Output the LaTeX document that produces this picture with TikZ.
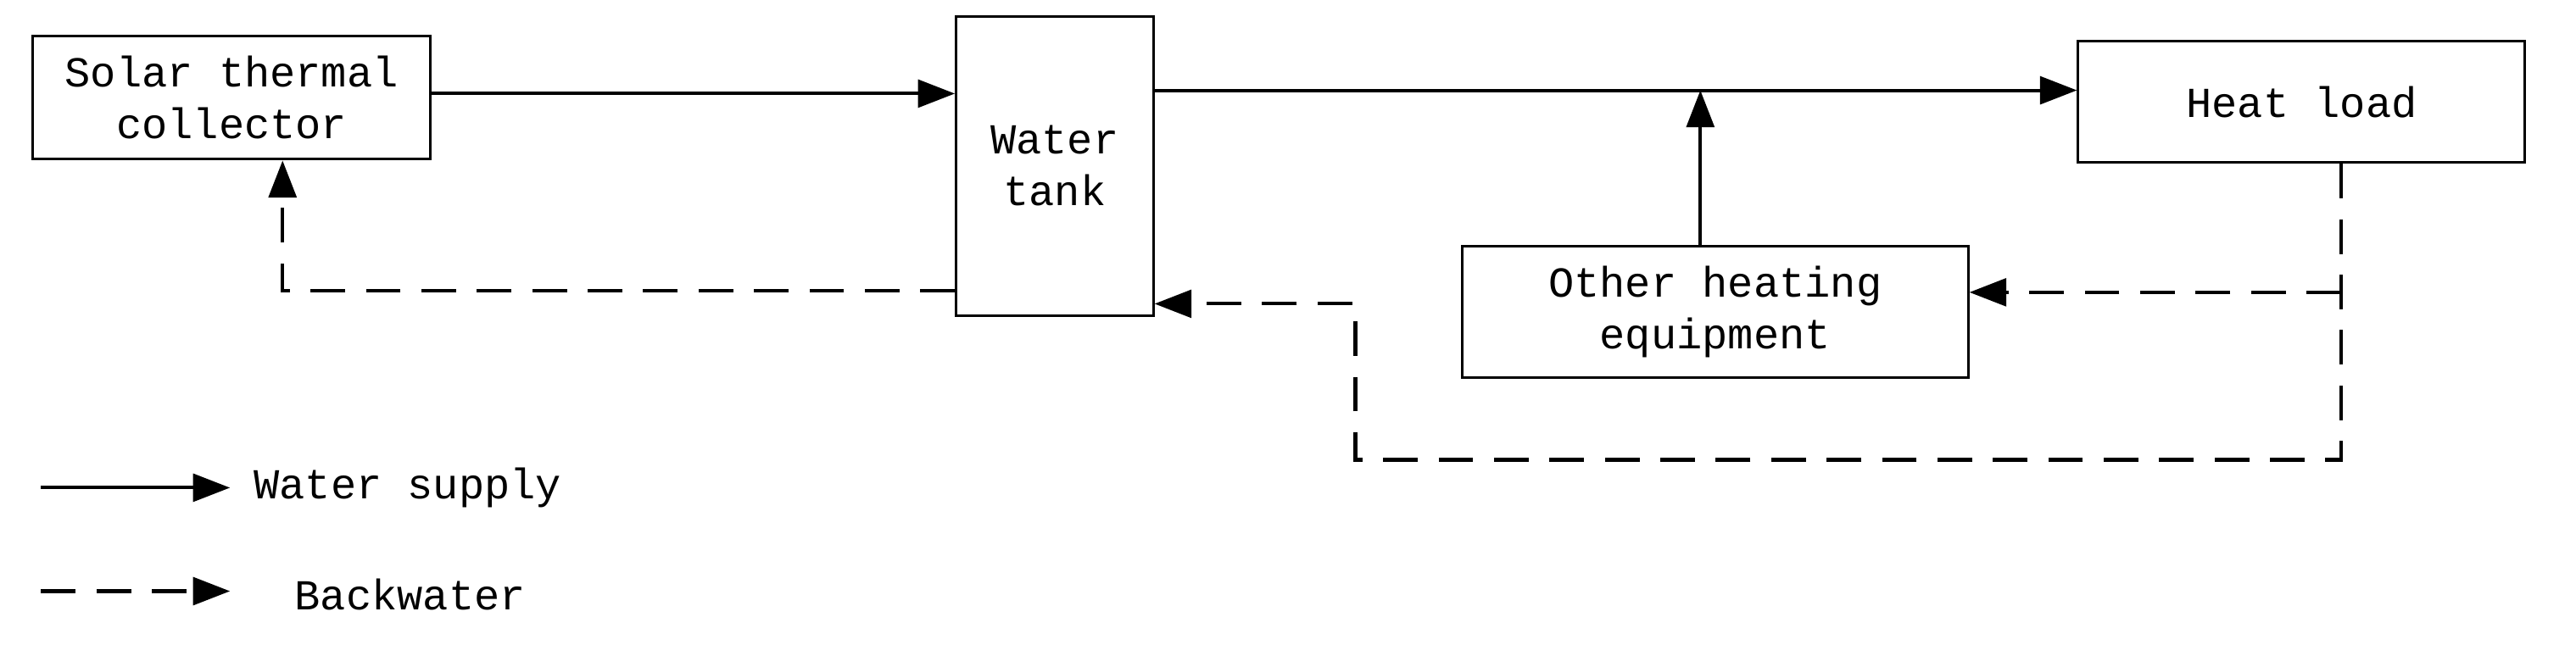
\documentclass[tikz,border=0pt]{standalone}
\usepackage{fontspec}
\setmainfont{Liberation Mono}
\usetikzlibrary{arrows.meta}
\begin{document}
\begin{tikzpicture}[x=0.05cm,y=-0.05cm,
  box/.style={draw,line width=2.2pt,inner sep=0,font=\fontsize{37}{45}\selectfont,align=center},
  conn/.style={line width=3pt,-{Triangle[length=32pt,width=24pt]}},
  back/.style={conn,dash pattern=on 30pt off 18pt},
  lbl/.style={font=\fontsize{37}{45}\selectfont,anchor=west}]
\useasboundingbox (0,0) rectangle (1568,399);
\node[box,minimum width=242*0.05cm,minimum height=75*0.05cm] (sol) at (141,59.5) {Solar thermal\\collector};
\node[box,minimum width=120*0.05cm,minimum height=182*0.05cm] (tank) at (642,101) {Water\\tank};
\node[box,minimum width=272*0.05cm,minimum height=74*0.05cm] (load) at (1401,62) {Heat load};
\node[box,minimum width=308*0.05cm,minimum height=80*0.05cm] (oth) at (1044,190) {Other heating\\equipment};
\coordinate (j) at (1035,55);
\draw[conn] (sol.east |- 0,57) -- (tank.west |- 0,57);
\draw[conn] (tank.east |- 0,55) -- (load.west |- 0,55);
\draw[conn] (oth.north -| j) -- (j);
\coordinate (a) at (172,177);
\draw[back] (tank.west |- a) -- (a) -- (sol.south -| a);
\coordinate (b) at (1425,280);
\coordinate (c) at (825,280);
\coordinate (d) at (825,185);
\draw[back] (load.south -| b) -- (b) -- (c) -- (d) -- (tank.east |- d);
\coordinate (e) at (1425,178);
\draw[back] (e) -- (oth.east |- e);
\coordinate (l1) at (25,297); \coordinate (l2) at (140,297);
\coordinate (l3) at (25,360); \coordinate (l4) at (140,360);
\draw[conn] (l1) -- (l2);
\draw[back] (l3) -- (l4);
\node[lbl] (t1) at (152,297) {Water supply};
\node[lbl] (t2) at (177,362) {Backwater};
\end{tikzpicture}
\end{document}
